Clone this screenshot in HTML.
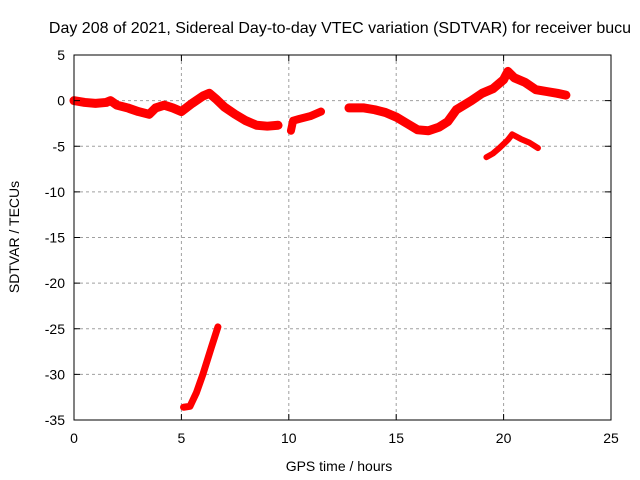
<!DOCTYPE html>
<html><head><meta charset="utf-8"><style>
body{margin:0;background:#fff;overflow:hidden;}
svg{display:block;font-family:"Liberation Sans",sans-serif;}
</style></head><body>
<svg id="chart" width="640" height="480">
<text x="340" y="33" font-size="16" text-anchor="middle">Day 208 of 2021, Sidereal Day-to-day VTEC variation (SDTVAR) for receiver bucu</text>
<text x="339" y="471" font-size="14" text-anchor="middle">GPS time / hours</text>
<text transform="translate(19,237) rotate(-90)" font-size="14" text-anchor="middle">SDTVAR / TECUs</text>
<g id="grid"></g><g id="series"></g><g id="axes"></g>
</svg>
<script>
const xTicks=[0,5,10,15,20,25];
const yTicks=[5,0,-5,-10,-15,-20,-25,-30,-35];
const seg1T=[0,0.5,1,1.5,1.7,2,2.5,3,3.5,3.8,4.2,4.6,5,5.5,6,6.3,6.6,7,7.5,8,8.5,9,9.5];
const seg1V=[0,-0.2,-0.3,-0.2,0,-0.5,-0.8,-1.2,-1.5,-0.8,-0.5,-0.8,-1.2,-0.3,0.5,0.8,0.2,-0.7,-1.5,-2.2,-2.7,-2.8,-2.7];
const seg2T=[10.1,10.2,10.5,11,11.5];
const seg2V=[-3.3,-2.2,-2,-1.7,-1.2];
const seg3T=[12.8,13.5,14,14.5,15,15.5,16,16.5,17,17.4,17.8,18.5,19,19.5,20,20.2,20.5,21,21.5,22,22.5,22.9];
const seg3V=[-0.8,-0.8,-1,-1.3,-1.8,-2.5,-3.2,-3.3,-2.9,-2.3,-1,0,0.8,1.3,2.3,3.2,2.5,2,1.2,1,0.8,0.6];
const seg4T=[19.2,19.5,19.8,20.2,20.4,20.8,21.2,21.6];
const seg4V=[-6.2,-5.8,-5.2,-4.3,-3.7,-4.2,-4.6,-5.2];
const seg5T=[5.1,5.4,5.7,6.0,6.4,6.7];
const seg5V=[-33.6,-33.5,-32,-30,-27,-24.8];
const L=74,R=611,T=55,B=420;
const sx=v=>L+(v-0)/25*(R-L);
const sy=v=>T+(5-v)/40*(B-T);
const NS="http://www.w3.org/2000/svg";
const grid=document.getElementById('grid'),axes=document.getElementById('axes'),ser=document.getElementById('series');
function mk(tag,at,par){const e=document.createElementNS(NS,tag);for(const k in at)e.setAttribute(k,at[k]);par.appendChild(e);return e;}
xTicks.forEach(t=>{
 const x=sx(t);
 if(t>0&&t<25){const g=mk('line',{x1:x,x2:x,y1:T,y2:B,stroke:'#a0a0a0','stroke-dasharray':'3,3'},grid);
 
 }
 mk('line',{x1:x,x2:x,y1:B,y2:B-6,stroke:'#000'},axes);
 mk('line',{x1:x,x2:x,y1:T,y2:T+6,stroke:'#000'},axes);
 const tx=mk('text',{x:x,y:B+23,'font-size':14,'text-anchor':'middle'},axes);tx.textContent=t;
 
 
});
yTicks.forEach(t=>{
 const y=sy(t);
 if(t<5&&t>-35){const g=mk('line',{x1:L,x2:R,y1:y,y2:y,stroke:'#a0a0a0','stroke-dasharray':'3,3'},grid);
 
 }
 mk('line',{x1:L,x2:L+6,y1:y,y2:y,stroke:'#000'},axes);
 mk('line',{x1:R,x2:R-6,y1:y,y2:y,stroke:'#000'},axes);
 const tx=mk('text',{x:L-9,y:y+5,'font-size':14,'text-anchor':'end'},axes);tx.textContent=t;
 
 
});
const fr=mk('rect',{x:L,y:T,width:R-L,height:B-T,fill:'none',stroke:'#000'},axes);


function seg(ts,vs,w,name){
 const p=mk('polyline',{points:ts.map((t,i)=>sx(t)+','+sy(vs[i])).join(' '),fill:'none',stroke:'#ff0000','stroke-width':w,'stroke-linejoin':'round','stroke-linecap':'round'},ser);
 
 
}
seg(seg1T,seg1V,9,'sdtvar-series-segment-1');
seg(seg2T,seg2V,8,'sdtvar-series-segment-2');
seg(seg3T,seg3V,9,'sdtvar-series-segment-3');
seg(seg4T,seg4V,6,'sdtvar-series-segment-4');
seg(seg5T,seg5V,7,'sdtvar-series-segment-5');
</script>
</body></html>
